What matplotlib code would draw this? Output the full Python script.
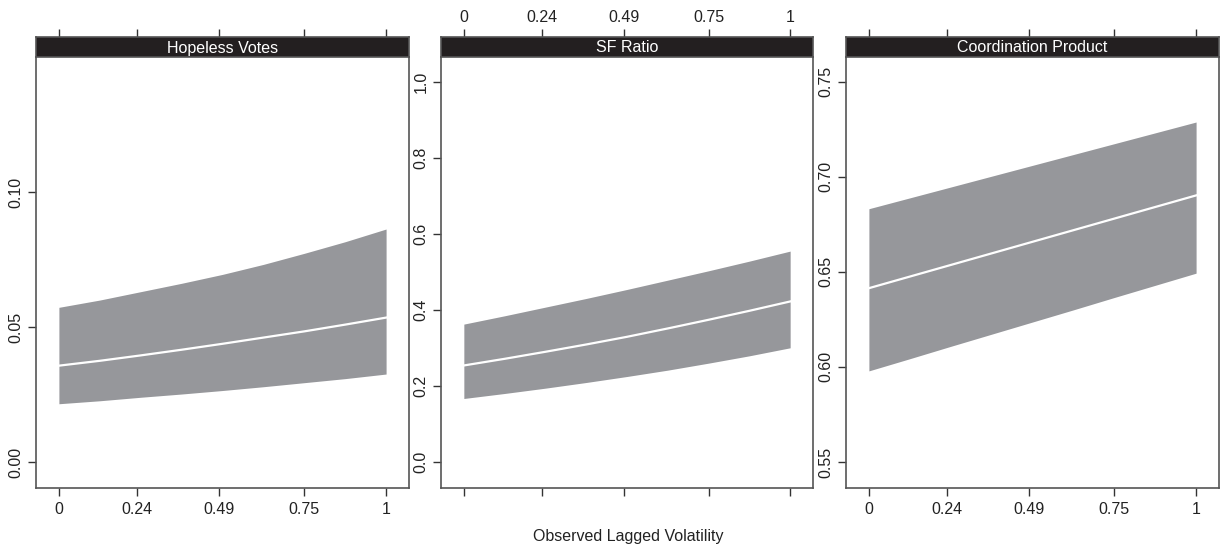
import matplotlib
matplotlib.use('Agg')
import matplotlib.pyplot as plt
import numpy as np

plt.rcParams['font.family'] = ['Liberation Sans', 'DejaVu Sans']

# ========== datos ==========
x_vals = [0.0, 0.125, 0.25, 0.375, 0.5, 0.625, 0.75, 0.875, 1.0]
x_ticks = [0.0, 0.24, 0.49, 0.75, 1.0]
x_tick_labels = ['0', '0.24', '0.49', '0.75', '1']

panel_titles = ['Hopeless Votes', 'SF Ratio', 'Coordination Product']

hv_lower = [0.0216, 0.0227, 0.0240, 0.0252, 0.0265, 0.0279, 0.0294, 0.0309, 0.0326]
hv_mean = [0.0357, 0.0375, 0.0395, 0.0416, 0.0438, 0.0461, 0.0484, 0.0509, 0.0535]
hv_upper = [0.0573, 0.0600, 0.0631, 0.0662, 0.0695, 0.0732, 0.0773, 0.0816, 0.0863]

sf_lower = [0.1675, 0.1807, 0.1947, 0.2096, 0.2254, 0.2421, 0.2605, 0.2798, 0.3009]
sf_mean = [0.2544, 0.2719, 0.2904, 0.3096, 0.3298, 0.3518, 0.3746, 0.3982, 0.4228]
sf_upper = [0.3632, 0.3851, 0.4079, 0.4307, 0.4544, 0.4789, 0.5035, 0.5289, 0.5553]

cp_lower = [0.5979, 0.6043, 0.6108, 0.6172, 0.6236, 0.6300, 0.6365, 0.6429, 0.6493]
cp_mean = [0.6414, 0.6475, 0.6536, 0.6597, 0.6658, 0.6719, 0.6780, 0.6841, 0.6902]
cp_upper = [0.6832, 0.6889, 0.6946, 0.7003, 0.7060, 0.7117, 0.7174, 0.7231, 0.7288]

y_ticks = [[0.00, 0.05, 0.10],
           [0.0, 0.2, 0.4, 0.6, 0.8, 1.0],
           [0.55, 0.60, 0.65, 0.70, 0.75]]
y_tick_labels = [['0.00', '0.05', '0.10'],
                 ['0.0', '0.2', '0.4', '0.6', '0.8', '1.0'],
                 ['0.55', '0.60', '0.65', '0.70', '0.75']]
y_lims = [(-0.0096, 0.150), (-0.068, 1.066), (0.5363, 0.763)]

lowers = [hv_lower, sf_lower, cp_lower]
means = [hv_mean, sf_mean, cp_mean]
uppers = [hv_upper, sf_upper, cp_upper]

# ========== figura ==========
W, H = 1223, 549
fig = plt.figure(figsize=(W / 100, H / 100), dpi=100)

panel_left = [36, 441, 846]
panel_right = [409, 813, 1219]
strip_top, strip_bottom, panel_bottom = 37, 57, 488

axis_col = '#555555'
fill_col = '#96979b'
strip_col = '#231f20'
fs = 11.5

for i in range(3):
    l = panel_left[i] / W
    w = (panel_right[i] - panel_left[i]) / W
    b = (H - panel_bottom) / H
    h = (panel_bottom - strip_bottom) / H
    ax = fig.add_axes([l, b, w, h])

    ax.fill_between(x_vals, lowers[i], uppers[i], color=fill_col, lw=0)
    ax.plot(x_vals, means[i], color='white', lw=1.6)

    ax.set_xlim(-0.07, 1.07)
    ax.set_ylim(*y_lims[i])
    ax.set_xticks(x_ticks)
    ax.set_yticks(y_ticks[i])
    ax.set_yticklabels(y_tick_labels[i], rotation=90, va='center')
    if i == 1:
        ax.set_xticklabels([])
    else:
        ax.set_xticklabels(x_tick_labels)
    ax.tick_params(axis='both', direction='out', length=6, width=1, color='#333333',
                   labelsize=fs, labelcolor='#222222', pad=4)
    ax.tick_params(axis='y', pad=3)
    ax.tick_params(top=False, right=False)
    for s in ax.spines.values():
        s.set_color(axis_col)
        s.set_linewidth(1.2)
    ax.spines['top'].set_visible(False)

    # strip
    sh = (strip_bottom - strip_top) / H
    sax = fig.add_axes([l, (H - strip_bottom) / H, w, sh])
    sax.set_facecolor(strip_col)
    sax.set_xlim(-0.07, 1.07)
    sax.set_ylim(0, 1)
    sax.set_yticks([])
    sax.set_xticks(x_ticks)
    sax.xaxis.set_ticks_position('top')
    if i == 1:
        sax.set_xticklabels(x_tick_labels)
    else:
        sax.set_xticklabels([])
    sax.tick_params(axis='x', direction='out', length=6, width=1, color='#333333',
                    labelsize=fs, labelcolor='#222222', pad=3)
    for s in sax.spines.values():
        s.set_color(axis_col)
        s.set_linewidth(1.2)
    sax.text(0.5, 0.45, panel_titles[i], transform=sax.transAxes, ha='center',
             va='center', color='white', fontsize=fs)

fig.text(628 / W, 1 - 536 / H, 'Observed Lagged Volatility', ha='center', va='center',
         fontsize=fs, color='#222222')

plt.savefig('out.png', dpi=100)
plt.close(fig)
